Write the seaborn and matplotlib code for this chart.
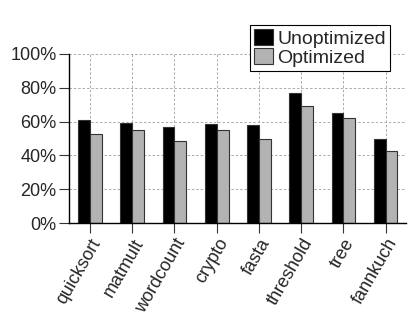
import pandas as pd
import matplotlib
matplotlib.use('Agg')
import matplotlib.pyplot as plt
import seaborn as sns

# values (percent)
benchmarks = ['quicksort', 'matmult', 'wordcount', 'crypto', 'fasta',
              'threshold', 'tree', 'fannkuch']
unoptimized = [60.8, 59.4, 57.0, 58.6, 58.2, 77.0, 64.8, 49.5]
optimized = [52.9, 54.9, 48.5, 55.2, 49.9, 69.1, 62.0, 42.4]
series = ['Unoptimized', 'Optimized']
colors = ['#000000', '#b3b3b3']

df = pd.DataFrame({
    'benchmark': benchmarks * 2,
    'value': unoptimized + optimized,
    'series': [series[0]] * len(benchmarks) + [series[1]] * len(benchmarks),
})

sns.set_style('white')
plt.rcParams['font.family'] = ['Liberation Sans', 'DejaVu Sans']

fig = plt.figure(figsize=(4.15, 3.29), dpi=100)
ax = fig.add_axes([0.166, 0.322, 0.812, 0.514])

sns.barplot(data=df, x='benchmark', y='value', hue='series', order=benchmarks,
            hue_order=series, palette=colors, width=0.56, gap=0,
            edgecolor='#333333', linewidth=0.8, ax=ax, legend=True)

ax.set_ylim(0, 100)
ax.set_xlim(-0.5, 7.48)
ax.set_yticks([0, 20, 40, 60, 80, 100])
ax.set_yticklabels([f'{v}%' for v in [0, 20, 40, 60, 80, 100]], fontsize=13)
ax.set_xticks(range(len(benchmarks)))
ax.set_xticklabels(benchmarks, rotation=60, ha='right', rotation_mode='anchor',
                   fontsize=13)
ax.set_xlabel('')
ax.set_ylabel('')
ax.grid(True, linestyle=(0, (2.5, 2)), color='#aaaaaa', linewidth=0.7)
ax.set_axisbelow(True)
for side in ['top', 'right']:
    ax.spines[side].set_visible(False)
for side in ['left', 'bottom']:
    ax.spines[side].set_color('black')
    ax.spines[side].set_linewidth(1.0)
ax.tick_params(axis='both', direction='out', length=7, width=0.8,
               color='#333333', bottom=True, left=True, pad=2)

ax.legend(loc='upper right', bbox_to_anchor=(0.94, 0.925),
          bbox_transform=fig.transFigure, fontsize=14, frameon=True,
          fancybox=False, edgecolor='black', handlelength=0.95,
          handleheight=0.95, handletextpad=0.25, borderpad=0.2,
          labelspacing=0.0, borderaxespad=0, framealpha=1)
ax.get_legend().get_frame().set_linewidth(0.8)

fig.savefig('out.png', dpi=100)
